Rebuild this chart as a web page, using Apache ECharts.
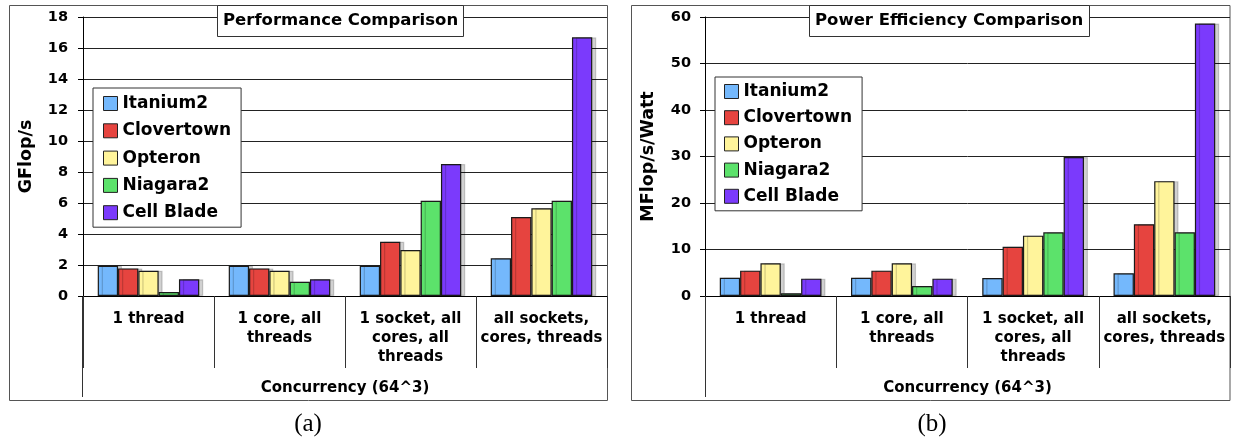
<!DOCTYPE html>
<html>
<head>
<meta charset="utf-8">
<script src="https://cdn.jsdelivr.net/npm/echarts@6/dist/echarts.min.js"></script>
<style>
html,body{margin:0;padding:0;background:#fff;}
#c{width:1233px;height:444px;}
</style>
</head>
<body>
<div id="c"></div>
<script>
// ---- data ----
const categories = ['1 thread', '1 core, all\nthreads', '1 socket, all\ncores, all\nthreads', 'all sockets,\ncores, threads'];
const seriesNames = ['Itanium2', 'Clovertown', 'Opteron', 'Niagara2', 'Cell Blade'];
const seriesColors = ['#74B8FC', '#E6443F', '#FFF49B', '#5CE26B', '#7B3AFC'];

// Performance (GFlop/s)
const perfItanium2   = [1.95, 1.95, 1.95, 2.43];
const perfClovertown = [1.78, 1.78, 3.50, 5.10];
const perfOpteron    = [1.63, 1.63, 2.97, 5.66];
const perfNiagara2   = [0.26, 0.92, 6.15, 6.15];
const perfCellBlade  = [1.08, 1.08, 8.52, 16.69];

// Power efficiency (MFlop/s/Watt)
const effItanium2   = [3.94, 3.94, 3.87, 4.88];
const effClovertown = [5.45, 5.45, 10.6, 15.43];
const effOpteron    = [7.03, 7.03, 12.98, 24.7];
const effNiagara2   = [0.57, 2.15, 13.7, 13.7];
const effCellBlade  = [3.73, 3.73, 29.9, 58.6];

const perfTicks = {min: 0, max: 18, interval: 2};
const effTicks  = {min: 0, max: 60, interval: 10};

const perfData = [perfItanium2, perfClovertown, perfOpteron, perfNiagara2, perfCellBlade];
const effData  = [effItanium2, effClovertown, effOpteron, effNiagara2, effCellBlade];

const FONT = 'DejaVu Sans';

function makeSeries(dataArr, axisIdx) {
  return dataArr.map((d, i) => ({
    name: seriesNames[i],
    type: 'bar',
    xAxisIndex: axisIdx,
    yAxisIndex: axisIdx,
    data: d,
    barGap: '0%',
    barCategoryGap: '22.5%',
    silent: true,
    itemStyle: {
      color: seriesColors[i],
      borderColor: '#1a1a1a',
      borderWidth: 1.2,
      shadowColor: 'rgba(0,0,0,0.18)',
      shadowBlur: 0,
      shadowOffsetX: 4,
      shadowOffsetY: 0
    }
  }));
}

function xAxis(gridIndex) {
  return {
    type: 'category',
    gridIndex: gridIndex,
    data: categories,
    name: 'Concurrency (64^3)',
    nameLocation: 'middle',
    nameGap: 85,
    nameTextStyle: {fontFamily: FONT, fontWeight: 'bold', fontSize: 15, color: '#000'},
    axisLine: {show: true, lineStyle: {color: '#000', width: 1}},
    axisTick: {show: true, length: 72, lineStyle: {color: '#333'}},
    axisLabel: {interval: 0, fontFamily: FONT, fontWeight: 'bold', fontSize: 15, lineHeight: 19, color: '#000', margin: 14, align: 'center'},
    splitLine: {show: false}
  };
}

function yAxis(gridIndex, ticks, name, nameGap, margin) {
  return {
    type: 'value',
    gridIndex: gridIndex,
    min: ticks.min, max: ticks.max, interval: ticks.interval,
    name: name,
    nameLocation: 'middle',
    nameRotate: 90,
    nameGap: nameGap,
    nameTextStyle: {fontFamily: FONT, fontWeight: 'bold', fontSize: 17.5, color: '#000'},
    axisLine: {show: true, lineStyle: {color: '#000', width: 1}},
    axisTick: {show: true, length: 5, lineStyle: {color: '#000'}},
    axisLabel: {fontFamily: FONT, fontWeight: 'bold', fontSize: 14.5, color: '#000', margin: margin},
    splitLine: {show: true, lineStyle: {color: '#222', width: 1}}
  };
}

function legend(left, top, gap, padding) {
  return {
    left: left, top: top,
    orient: 'vertical',
    data: seriesNames,
    icon: 'rect',
    itemWidth: 14, itemHeight: 14,
    itemGap: gap,
    padding: padding,
    borderColor: '#333', borderWidth: 1,
    backgroundColor: '#fff',
    selectedMode: false,
    itemStyle: {borderColor: '#222', borderWidth: 1, shadowColor: 'rgba(0,0,0,0)', shadowBlur: 0, shadowOffsetX: 0, shadowOffsetY: 0},
    textStyle: {fontFamily: FONT, fontWeight: 'bold', fontSize: 17, lineHeight: 17, color: '#000', padding: [0, 0, 0, 0]}
  };
}

function title(text, left) {
  return {
    text: text,
    left: left, top: 5,
    padding: [7, 6, 7, 6],
    borderColor: '#333', borderWidth: 1,
    backgroundColor: '#fff',
    textStyle: {fontFamily: FONT, fontWeight: 'bold', fontSize: 16.5, lineHeight: 18, color: '#000'}
  };
}

const chart = echarts.init(document.getElementById('c'), null, {renderer: 'canvas'});
chart.setOption({
  animation: false,
  backgroundColor: '#fff',
  textStyle: {fontFamily: FONT},
  title: [title('Performance Comparison', 217), title('Power Efficiency Comparison', 809)],
  legend: [legend(93, 88, 10.3, [7, 10, 6, 10]), legend(715, 77, 9.2, [6, 10, 6, 9])],
  grid: [
    {left: 83, top: 17, width: 524, height: 279, containLabel: false},
    {left: 705, top: 17, width: 525, height: 279, containLabel: false}
  ],
  xAxis: [xAxis(0), xAxis(1)],
  yAxis: [yAxis(0, perfTicks, 'GFlop/s', 48, 15), yAxis(1, effTicks, 'MFlop/s/Watt', 48, 14)],
  series: [].concat(makeSeries(perfData, 0), makeSeries(effData, 1)),
  graphic: [
    {type: 'rect', z: -1, silent: true, shape: {x: 9.5, y: 5.5, width: 598, height: 395}, style: {fill: 'none', stroke: '#555', lineWidth: 1}},
    {type: 'rect', z: -1, silent: true, shape: {x: 631.5, y: 5.5, width: 598.5, height: 395}, style: {fill: 'none', stroke: '#555', lineWidth: 1}},
    {type: 'line', silent: true, shape: {x1: 82.5, y1: 296, x2: 82.5, y2: 397}, style: {stroke: '#333', lineWidth: 1}},
    {type: 'line', silent: true, shape: {x1: 705.5, y1: 296, x2: 705.5, y2: 397}, style: {stroke: '#333', lineWidth: 1}},
    {type: 'text', silent: true, style: {text: '(a)', x: 308, y: 424, textAlign: 'center', textVerticalAlign: 'middle', font: '25px "Liberation Serif"', fill: '#000'}},
    {type: 'text', silent: true, style: {text: '(b)', x: 932, y: 424, textAlign: 'center', textVerticalAlign: 'middle', font: '25px "Liberation Serif"', fill: '#000'}}
  ]
});
</script>
</body>
</html>
